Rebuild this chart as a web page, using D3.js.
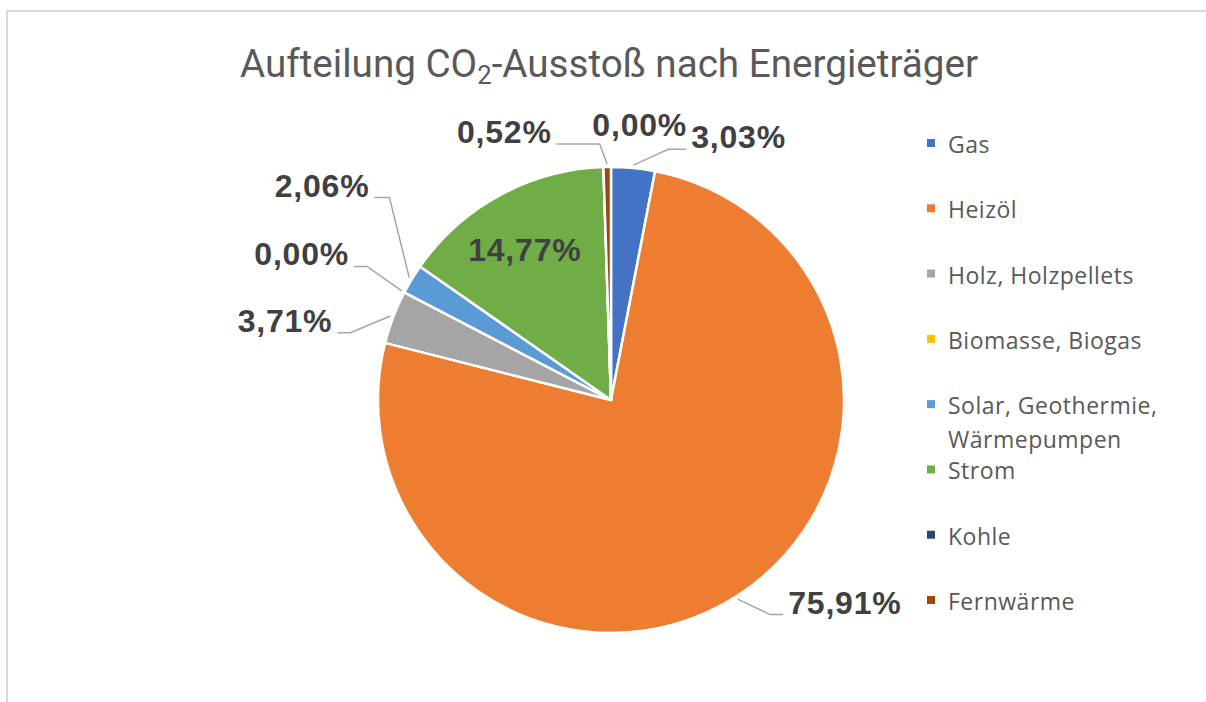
<!DOCTYPE html>
<meta charset="utf-8">
<body style="margin:0;background:#fff">
<style>
    .title { font-family: Roboto, "Noto Sans", sans-serif; fill: #595959; }
    .legend text { font-family: "Open Sans", "Noto Sans", sans-serif; font-size: 23px; letter-spacing: 0.5px; fill: #595959; }
    .lbl { font-family: "Liberation Sans", Arial, sans-serif; font-weight: bold; font-size: 32px; letter-spacing: 0.8px; fill: #404040; }
    .leader { fill: none; stroke: #a6a6a6; stroke-width: 1.5; }
</style>
<script src="https://d3js.org/d3.v7.min.js"></script>
<script>
    // chart data
    const categories = ["Gas", "Heizöl", "Holz, Holzpellets", "Biomasse, Biogas",
        "Solar, Geothermie, Wärmepumpen", "Strom", "Kohle", "Fernwärme"];
    const legendLines = [["Gas"], ["Heizöl"], ["Holz, Holzpellets"], ["Biomasse, Biogas"],
        ["Solar, Geothermie,", "Wärmepumpen"], ["Strom"], ["Kohle"], ["Fernwärme"]];
    const shares = [3.03, 75.91, 3.71, 0.00, 2.06, 14.77, 0.00, 0.52];
    const colors = ["#4472c4", "#ed7d31", "#a5a5a5", "#ffc000", "#5b9bd5", "#70ad47", "#264478", "#9e480e"];

    // label placement tweaks (Excel moves labels around to avoid overlap)
    // [dx, dy, horizontal leader length]; null = label inside the slice
    const labelNudge = [[32, 13, 18], [17, -9, 13], [-13, 27, 13], [-9, -11, 13],
        [5, -65, 15], null, [-10, 1, 0], [-7, 9, 43]];

    const W = 1206, H = 702;
    const cx = 611, cy = 400, r = 233;

    const svg = d3.select("body").append("svg")
        .attr("width", W).attr("height", H);

    // chart area border
    svg.append("rect")
        .attr("x", 7).attr("y", 11)
        .attr("width", W + 10).attr("height", H + 10)
        .attr("fill", "none").attr("stroke", "#d9d9d9").attr("stroke-width", 2);

    // title
    const title = svg.append("text").attr("class", "title")
        .attr("x", 609).attr("y", 77)
        .attr("text-anchor", "middle")
        .attr("font-size", 39)
        .attr("textLength", 738).attr("lengthAdjust", "spacingAndGlyphs");
    title.append("tspan").text("Aufteilung CO");
    title.append("tspan").attr("font-size", 26).attr("dy", 7).text("2");
    title.append("tspan").attr("dy", -7).text("-Ausstoß nach Energieträger");

    const fmt = d3.formatLocale({decimal: ",", thousands: ".", grouping: [3], currency: ["", "€"]}).format(".2f");

    const pie = d3.pie().sort(null).value(d => d);
    const arcs = pie(shares);
    const arc = d3.arc().innerRadius(0).outerRadius(r);

    const g = svg.append("g").attr("transform", "translate(" + cx + "," + cy + ")");

    g.selectAll("path.slice")
        .data(arcs).enter()
        .append("path")
        .attr("class", "slice")
        .attr("d", arc)
        .attr("fill", (d, i) => colors[i])
        .attr("stroke", "#fff")
        .attr("stroke-width", 2.5)
        .attr("stroke-linejoin", "round");

    const polar = (a, rad) => [rad * Math.sin(a), -rad * Math.cos(a)];

    arcs.forEach((d, i) => {
        const mid = (d.startAngle + d.endAngle) / 2;
        const txt = fmt(shares[i]) + "%";
        const nudge = labelNudge[i];
        if (!nudge) {
            const p = polar(mid, r * 0.74);
            g.append("text").attr("class", "lbl")
                .attr("x", p[0] - 4).attr("y", p[1] + 2)
                .attr("text-anchor", "middle")
                .attr("dominant-baseline", "central")
                .text(txt);
            return;
        }
        const base = polar(mid, 265);
        const elbow = [base[0] + nudge[0], base[1] + nudge[1]];
        if (nudge[2] === 0) {
            // no leader line
            g.append("text").attr("class", "lbl")
                .attr("x", elbow[0]).attr("y", elbow[1])
                .attr("text-anchor", "start")
                .text(txt);
            return;
        }
        const side = Math.sin(mid) >= 0 ? 1 : -1;
        const start = polar(mid, r + 3);
        const end = [elbow[0] + side * nudge[2], elbow[1]];
        g.append("path").attr("class", "leader")
            .attr("d", d3.line()([start, elbow, end]));
        g.append("text").attr("class", "lbl")
            .attr("x", end[0] + side * 5).attr("y", end[1] - 1)
            .attr("text-anchor", side > 0 ? "start" : "end")
            .text(txt);
    });

    // legend
    const ly = d3.scalePoint().domain(categories).range([143, 600]);
    const leg = svg.append("g").attr("class", "legend");
    const item = leg.selectAll("g")
        .data(categories).enter()
        .append("g")
        .attr("transform", d => "translate(927," + ly(d) + ")");
    item.append("rect")
        .attr("x", 0).attr("y", -4)
        .attr("width", 8).attr("height", 8)
        .attr("fill", (d, i) => colors[i]);
    item.each(function(d, i) {
        const t = d3.select(this).append("text")
            .attr("x", 21).attr("y", 1)
            .attr("dominant-baseline", "central");
        legendLines[i].forEach((line, k) => {
            t.append("tspan").attr("x", 21).attr("dy", k === 0 ? 0 : 34).text(line);
        });
    });
</script>
</body>
